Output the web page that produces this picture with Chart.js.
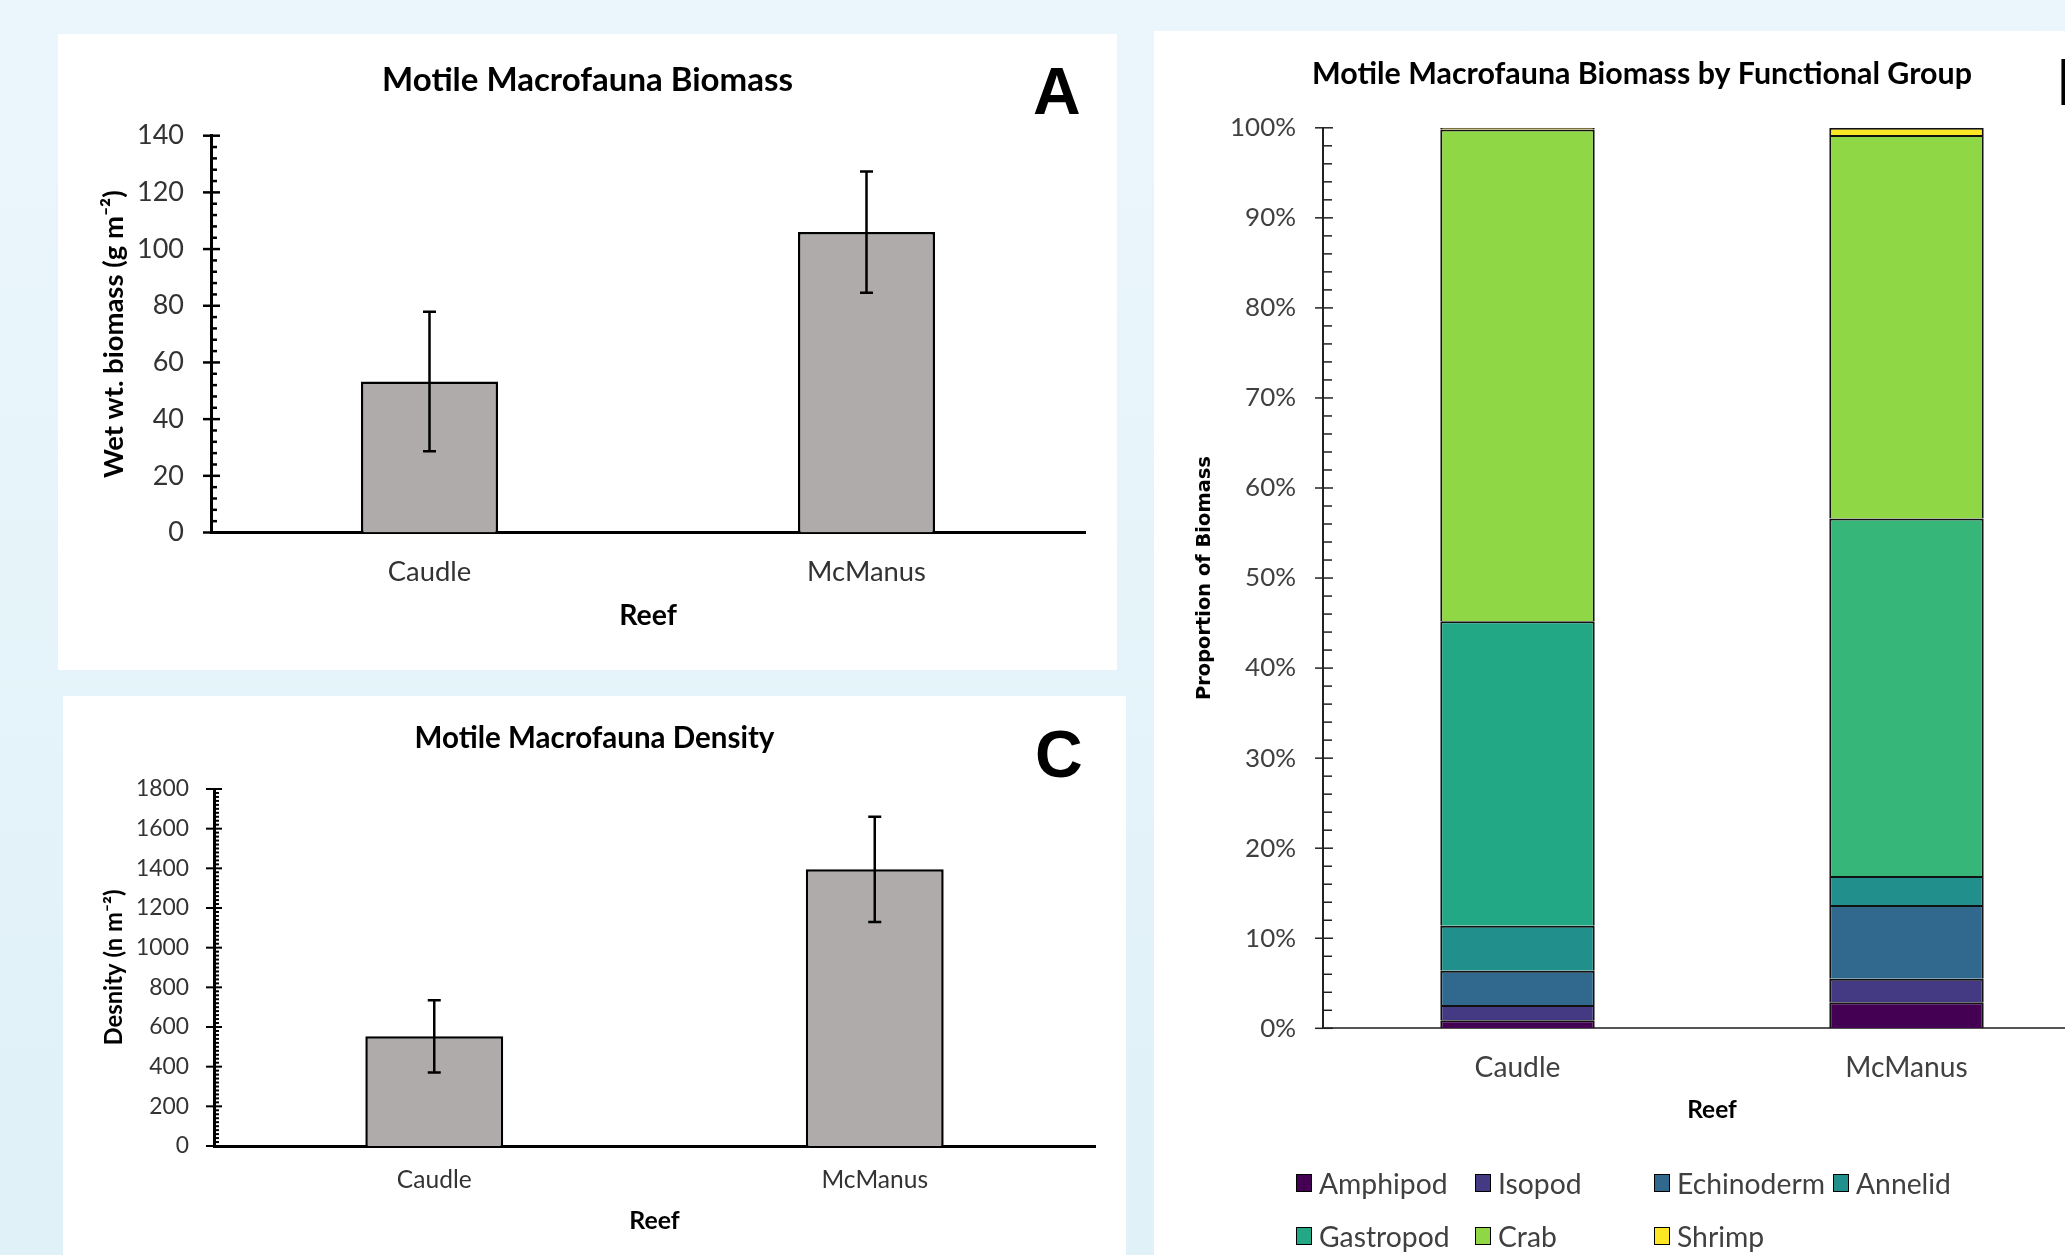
<!DOCTYPE html>
<html><head><meta charset="utf-8">
<script src="https://cdn.jsdelivr.net/npm/chart.js@4"></script>
<style>
html,body{margin:0;padding:0;width:2065px;height:1255px;overflow:hidden;}
body{background:linear-gradient(#EBF6FC,#E0F1F8);position:relative;font-family:Lato;}
.panel{position:absolute;background:#fff;}
canvas{position:absolute;}
.letter{position:absolute;font:bold 66px "Liberation Sans";line-height:66px;color:#000;}
.li{position:absolute;display:flex;align-items:center;height:30px;color:#404040;font-family:Lato;white-space:nowrap;}
.sw{display:inline-block;width:16px;height:18px;box-sizing:border-box;border:1.5px solid #000;margin-right:7px;}
</style></head>
<body>
<div class="panel" style="left:58px;top:34px;width:1059px;height:636px"></div>
<div class="panel" style="left:63px;top:696px;width:1063px;height:559px"></div>
<div class="panel" style="left:1154px;top:31px;width:976px;height:1224px"></div>
<canvas id="cA" style="left:58px;top:34px"></canvas>
<canvas id="cC" style="left:63px;top:696px"></canvas>
<canvas id="cB" style="left:1154px;top:31px"></canvas>
<div class="letter" style="left:1033px;top:58px">A</div>
<div class="letter" style="left:1035px;top:721px">C</div>
<div class="letter" style="left:2057px;top:49px">B</div>
<div id="legend"></div>
<script>
// ---- data ----
const reefs = ['Caudle', 'McManus'];
const biomassMean = [53.3, 106.0];
const biomassErr = [24.6, 21.4];
const densityMean = [553, 1395];
const densityErr = [182, 265];
const biomassTicks = [0, 20, 40, 60, 80, 100, 120, 140];
const densityTicks = [0, 200, 400, 600, 800, 1000, 1200, 1400, 1600, 1800];
const percentTicks = [0, 10, 20, 30, 40, 50, 60, 70, 80, 90, 100];
const groups = ['Amphipod', 'Isopod', 'Echinoderm', 'Annelid', 'Gastropod', 'Crab', 'Shrimp'];
const amphipod = [0.9, 2.9];
const isopod = [1.7, 2.6];
const echinoderm = [3.8, 8.2];
const annelid = [5.0, 3.2];
const gastropod = [33.8, 39.7];
const crab = [54.6, 42.6];
const shrimp = [0.2, 0.8];
const legendColors = ['#440154', '#443A83', '#31688E', '#21908D', '#22A884', '#8FD744', '#FDE725'];
const gastropodBarColors = ['#22A884', '#36B779'];

// ---- helpers ----
const mctx = document.createElement('canvas').getContext('2d');
function fit(text, weight, family, width) {
  mctx.font = weight + ' 100px ' + family;
  return 100 * width / mctx.measureText(text).width;
}

const errorBars = {
  id: 'errorBars',
  afterDatasetsDraw(chart, args, o) {
    const meta = chart.getDatasetMeta(0), ys = chart.scales.y, ctx = chart.ctx;
    ctx.save();
    ctx.strokeStyle = '#000'; ctx.lineWidth = o.width;
    meta.data.forEach((bar, i) => {
      const m = o.mean[i], e = o.err[i];
      const t = ys.getPixelForValue(m + e), b = ys.getPixelForValue(m - e);
      ctx.beginPath();
      ctx.moveTo(bar.x, t); ctx.lineTo(bar.x, b);
      ctx.moveTo(bar.x - o.cap / 2, t); ctx.lineTo(bar.x + o.cap / 2, t);
      ctx.moveTo(bar.x - o.cap / 2, b); ctx.lineTo(bar.x + o.cap / 2, b);
      ctx.stroke();
    });
    ctx.restore();
  }
};

const axisTicks = {
  id: 'axisTicks',
  afterDraw(chart, args, o) {
    const ys = chart.scales.y, ctx = chart.ctx, x0 = chart.chartArea.left;
    const n = Math.round((ys.max - ys.min) / o.minor);
    ctx.save();
    ctx.strokeStyle = o.color; ctx.lineWidth = o.width;
    for (let k = 0; k <= n; k++) {
      const v = ys.min + k * o.minor;
      const major = Math.abs(v / o.major - Math.round(v / o.major)) < 1e-6;
      const py = ys.getPixelForValue(v);
      ctx.beginPath();
      ctx.moveTo(x0 - (major ? o.out : 0), py);
      ctx.lineTo(x0 + (major ? o.majorIn : o.minorIn), py);
      ctx.stroke();
    }
    ctx.restore();
  }
};

function baseScales(o) {
  const padR = o.W - o.chartR;
  const lhC = o.catSize * 1.2, lhR = o.reefSize * 1.2, lhY = o.yTitleSize * 1.2;
  const xH = o.reefOff + lhR / 2;
  return {
    xH, padR,
    scales: {
      x: {
        stacked: !!o.stacked,
        grid: { display: false, drawTicks: false },
        border: { display: true, color: o.xAxisColor, width: o.xAxisWidth },
        ticks: { color: o.catColor, font: { family: 'Lato', size: o.catSize }, padding: o.catOff - lhC / 2 },
        title: { display: true, text: 'Reef', color: '#000', font: { family: 'Lato', weight: 'bold', size: o.reefSize }, padding: 0 },
        afterFit: s => { s.height = xH; }
      },
      y: {
        stacked: !!o.stacked,
        min: 0, max: o.ticks[o.ticks.length - 1],
        grid: { display: false, drawTicks: false },
        border: { display: true, color: o.yAxisColor, width: o.yAxisWidth },
        ticks: { color: o.tickColor, font: { family: 'Lato', size: o.tickSize }, padding: o.tickGap, callback: o.fmt },
        afterBuildTicks: s => { s.ticks = o.ticks.map(v => ({ value: v })); },
        title: { display: true, text: o.yTitle, color: '#000', font: { family: o.yFamily, weight: 'bold', size: o.yTitleSize },
          padding: { top: Math.max(0, o.yTitleCX - padR - lhY / 2), bottom: 0 } },
        afterFit: s => { s.width = o.chartL - padR; }
      }
    }
  };
}

function commonOptions(o, sc) {
  const lhT = o.titleSize * 1.2;
  return {
    responsive: false, animation: false, devicePixelRatio: 1,
    layout: { padding: { left: sc.padR, top: 0, right: sc.padR, bottom: o.H - o.chartB - sc.xH } },
    plugins: {
      legend: { display: false }, tooltip: { enabled: false },
      title: { display: true, text: o.title, color: '#000', font: { family: 'Lato', weight: 'bold', size: o.titleSize, lineHeight: 1.2 },
        padding: { top: o.titleCY - lhT / 2, bottom: o.chartT - o.titleCY - lhT / 2 } },
      errorBars: { mean: o.mean, err: o.err, width: 2.5, cap: 13 },
      axisTicks: { minor: o.minor, major: o.major, width: o.tickWidth, out: o.out, majorIn: o.majorIn, minorIn: o.minorIn, color: o.yAxisColor }
    },
    scales: sc.scales
  };
}

function buildBar(id, o) {
  const c = document.getElementById(id);
  c.width = o.W; c.height = o.H;
  const sc = baseScales(o);
  return new Chart(c, {
    type: 'bar',
    data: { labels: reefs, datasets: [{ data: o.mean, backgroundColor: '#AEABAA', borderColor: '#000', borderWidth: 2.5, categoryPercentage: 1, barPercentage: o.barPct }] },
    options: commonOptions(o, sc),
    plugins: [errorBars, axisTicks]
  });
}

function build() {
  const ytA = 'Wet wt. biomass (g m\u207B\u00B2)';
  const ytC = 'Desnity (n m\u207B\u00B2)';
  buildBar('cA', {
    W: 1059, H: 636, chartL: 153, chartR: 1027, chartT: 101.7, chartB: 498.5,
    title: 'Motile Macrofauna Biomass', titleSize: fit('Motile Macrofauna Biomass', 'bold', 'Lato', 411), titleCY: 46,
    catSize: fit('McManus', 'normal', 'Lato', 119), catOff: 39.5, catColor: '#333',
    reefSize: fit('Reef', 'bold', 'Lato', 57.7), reefOff: 83.5,
    tickSize: fit('140', 'normal', 'Lato', 47), tickGap: 27, tickColor: '#333',
    yTitle: ytA, yFamily: 'Lato', yTitleSize: fit(ytA, 'bold', 'Lato', 288), yTitleCX: 56,
    ticks: biomassTicks, minor: 4, major: 20, tickWidth: 2.5, out: 8, majorIn: 9, minorIn: 6,
    xAxisColor: '#000', xAxisWidth: 3, yAxisColor: '#000', yAxisWidth: 3,
    mean: biomassMean, err: biomassErr, barPct: 0.3135
  });
  buildBar('cC', {
    W: 1063, H: 559, chartL: 151, chartR: 1032, chartT: 93, chartB: 450,
    title: 'Motile Macrofauna Density', titleSize: fit('Motile Macrofauna Density', 'bold', 'Lato', 360), titleCY: 42.7,
    catSize: fit('McManus', 'normal', 'Lato', 106.7), catOff: 34.5, catColor: '#333',
    reefSize: fit('Reef', 'bold', 'Lato', 50.4), reefOff: 75,
    tickSize: fit('1800', 'normal', 'Lato', 53), tickGap: 25, tickColor: '#333',
    yTitle: ytC, yFamily: 'Lato', yTitleSize: fit(ytC, 'bold', 'Lato', 156), yTitleCX: 51,
    ticks: densityTicks, minor: 20, major: 200, tickWidth: 2, out: 8, majorIn: 8, minorIn: 5,
    xAxisColor: '#000', xAxisWidth: 3, yAxisColor: '#000', yAxisWidth: 3,
    mean: densityMean, err: densityErr, barPct: 0.313
  });

  // stacked proportion chart
  const oB = {
    W: 976, H: 1224, chartL: 169, chartR: 947, chartT: 96.8, chartB: 997.3,
    title: 'Motile Macrofauna Biomass by Functional Group', titleSize: fit('Motile Macrofauna Biomass by Functional Group', 'bold', 'Lato', 660), titleCY: 43.7,
    catSize: fit('McManus', 'normal', 'Lato', 122.5), catOff: 39.2, catColor: '#404040',
    reefSize: fit('Reef', 'bold', 'Lato', 49.6), reefOff: 81.7,
    tickSize: fit('100%', 'normal', 'Lato', 66), tickGap: 27, tickColor: '#404040', fmt: v => v + '%',
    yTitle: 'Proportion of Biomass', yFamily: '"DejaVu Sans"', yTitleSize: fit('Proportion of Biomass', 'bold', '"DejaVu Sans"', 244), yTitleCX: 51,
    ticks: percentTicks, minor: 2, major: 10, tickWidth: 1.5, out: 8, majorIn: 10, minorIn: 9,
    xAxisColor: '#555', xAxisWidth: 2, yAxisColor: '#222', yAxisWidth: 2,
    mean: [], err: [], stacked: true
  };
  const seriesB = [amphipod, isopod, echinoderm, annelid, gastropod, crab, shrimp];
  const cB = document.getElementById('cB');
  cB.width = oB.W; cB.height = oB.H;
  const scB = baseScales(oB);
  new Chart(cB, {
    type: 'bar',
    data: {
      labels: reefs,
      datasets: groups.map((g, i) => ({
        label: g, data: seriesB[i],
        backgroundColor: g === 'Gastropod' ? gastropodBarColors : legendColors[i],
        borderColor: '#111', borderWidth: 2, categoryPercentage: 1, barPercentage: 0.397
      }))
    },
    options: commonOptions(oB, scB),
    plugins: [axisTicks]
  });

  // legend
  const lg = document.getElementById('legend');
  const cols = [1296, 1475, 1654, 1833], rows = [1183, 1236];
  const lsize = fit('Echinoderm', 'normal', 'Lato', 148);
  groups.forEach((g, i) => {
    const d = document.createElement('div');
    d.className = 'li';
    d.style.left = cols[i % 4] + 'px';
    d.style.top = (rows[Math.floor(i / 4)] - 15) + 'px';
    d.style.fontSize = lsize + 'px';
    const sw = document.createElement('span');
    sw.className = 'sw'; sw.style.background = legendColors[i];
    d.appendChild(sw);
    d.appendChild(document.createTextNode(g));
    lg.appendChild(d);
  });
}

Promise.all([
  document.fonts.load('bold 20px Lato'),
  document.fonts.load('20px Lato'),
  document.fonts.load('bold 20px "DejaVu Sans"'),
  document.fonts.load('bold 20px "Liberation Sans"')
]).then(build, build);
</script>
</body></html>
